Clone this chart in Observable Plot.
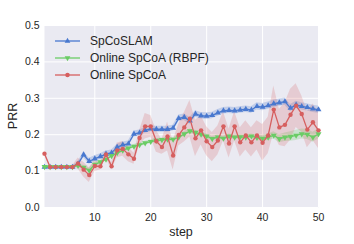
<!DOCTYPE html>
<html>
<head>
<meta charset="utf-8">
<script src="https://cdn.jsdelivr.net/npm/d3@7"></script>
<script src="https://cdn.jsdelivr.net/npm/@observablehq/plot@0.6"></script>
<style>
  html, body { margin: 0; padding: 0; background: white; }
  #chart { width: 354px; height: 244px; }
</style>
</head>
<body>
<div id="chart"></div>
<script>
const steps = [1,2,3,4,5,6,7,8,9,10,11,12,13,14,15,16,17,18,19,20,21,22,23,24,25,26,27,28,29,30,31,32,33,34,35,36,37,38,39,40,41,42,43,44,45,46,47,48,49,50];

const seriesNames = ["SpCoSLAM", "Online SpCoA (RBPF)", "Online SpCoA"];
const seriesColors = ["#4878CF", "#6ACC65", "#D65F5F"];

const spcoslam = [0.111,0.111,0.111,0.111,0.111,0.111,0.120,0.145,0.127,0.134,0.140,0.147,0.150,0.166,0.172,0.175,0.202,0.205,0.212,0.216,0.215,0.215,0.215,0.218,0.245,0.248,0.238,0.257,0.252,0.251,0.253,0.260,0.266,0.267,0.266,0.268,0.270,0.268,0.278,0.276,0.280,0.285,0.288,0.291,0.273,0.282,0.278,0.275,0.271,0.269];
const spcoslamErr = [0.004,0.004,0.004,0.004,0.004,0.004,0.006,0.008,0.008,0.008,0.008,0.008,0.008,0.008,0.008,0.008,0.008,0.008,0.008,0.008,0.008,0.008,0.008,0.008,0.009,0.009,0.009,0.009,0.009,0.009,0.009,0.009,0.009,0.009,0.009,0.009,0.009,0.009,0.010,0.010,0.010,0.010,0.010,0.010,0.010,0.010,0.010,0.010,0.010,0.010];

const rbpf = [0.112,0.112,0.112,0.112,0.112,0.112,0.115,0.110,0.102,0.118,0.125,0.132,0.142,0.150,0.157,0.163,0.168,0.172,0.177,0.181,0.184,0.186,0.187,0.187,0.193,0.202,0.210,0.206,0.201,0.196,0.189,0.193,0.190,0.196,0.193,0.194,0.193,0.196,0.192,0.190,0.193,0.198,0.189,0.193,0.195,0.198,0.202,0.201,0.193,0.202];
const rbpfErr = [0.003,0.003,0.003,0.003,0.003,0.003,0.004,0.006,0.006,0.006,0.005,0.005,0.005,0.005,0.005,0.005,0.005,0.005,0.005,0.005,0.005,0.005,0.005,0.005,0.005,0.006,0.006,0.006,0.006,0.006,0.006,0.006,0.006,0.006,0.006,0.006,0.006,0.006,0.007,0.008,0.009,0.010,0.011,0.012,0.013,0.014,0.014,0.014,0.014,0.014];

const online = [0.148,0.111,0.111,0.111,0.111,0.111,0.121,0.104,0.089,0.114,0.113,0.146,0.113,0.157,0.161,0.146,0.134,0.191,0.223,0.223,0.182,0.166,0.195,0.143,0.199,0.220,0.244,0.190,0.212,0.182,0.166,0.184,0.223,0.176,0.223,0.179,0.198,0.179,0.198,0.178,0.198,0.269,0.220,0.227,0.255,0.280,0.257,0.214,0.234,0.212];
const onlineErr = [0.004,0.003,0.003,0.003,0.003,0.003,0.015,0.020,0.020,0.015,0.010,0.010,0.010,0.020,0.020,0.020,0.015,0.020,0.035,0.030,0.030,0.020,0.040,0.040,0.030,0.040,0.050,0.050,0.040,0.040,0.040,0.040,0.040,0.040,0.040,0.040,0.040,0.040,0.040,0.050,0.050,0.065,0.050,0.060,0.070,0.060,0.050,0.050,0.050,0.050];

const xTicks = [10,20,30,40,50];
const yTicks = [0.0,0.1,0.2,0.3,0.4,0.5];

function rows(vals, errs, name) {
  return steps.map((s, i) => ({step: s, v: vals[i], lo: vals[i] - errs[i], hi: vals[i] + errs[i], name}));
}
const blue = rows(spcoslam, spcoslamErr, seriesNames[0]);
const green = rows(rbpf, rbpfErr, seriesNames[1]);
const red = rows(online, onlineErr, seriesNames[2]);

const font = "'Liberation Sans', Arial, sans-serif";

const chart = Plot.plot({
  width: 354,
  height: 244,
  marginLeft: 44,
  marginRight: 36,
  marginTop: 25,
  marginBottom: 37,
  style: {fontFamily: font, fontSize: "10.5px", color: "#262626", background: "white"},
  x: {domain: [1, 50]},
  y: {domain: [0, 0.5]},
  marks: [
    Plot.frame({fill: "#EAEAF2", stroke: null}),
    Plot.gridX(xTicks, {stroke: "white", strokeOpacity: 1, strokeWidth: 1}),
    Plot.gridY(yTicks, {stroke: "white", strokeOpacity: 1, strokeWidth: 1}),
    Plot.axisX(xTicks, {tickSize: 0, tickPadding: 6, label: null, fill: "#262626", fontSize: 10.5}),
    Plot.axisY(yTicks, {tickSize: 0, tickPadding: 5, label: null, tickFormat: d3.format(".1f"), fill: "#262626", fontSize: 10.5}),
    Plot.areaY(blue, {x: "step", y1: "lo", y2: "hi", fill: seriesColors[0], fillOpacity: 0.25}),
    Plot.areaY(green, {x: "step", y1: "lo", y2: "hi", fill: seriesColors[1], fillOpacity: 0.25}),
    Plot.areaY(red, {x: "step", y1: "lo", y2: "hi", fill: seriesColors[2], fillOpacity: 0.22}),
    Plot.line(blue, {x: "step", y: "v", stroke: seriesColors[0], strokeWidth: 1.3}),
    Plot.dot(blue, {x: "step", y: "v", symbol: "triangle", r: 2.2, fill: seriesColors[0], stroke: null}),
    Plot.line(green, {x: "step", y: "v", stroke: seriesColors[1], strokeWidth: 1.3}),
    Plot.dot(green, {x: "step", y: "v", symbol: "triangle", rotate: 180, r: 2.2, fill: seriesColors[1], stroke: null}),
    Plot.line(red, {x: "step", y: "v", stroke: seriesColors[2], strokeWidth: 1.3}),
    Plot.dot(red, {x: "step", y: "v", r: 2.2, fill: seriesColors[2], stroke: null})
  ]
});

document.getElementById("chart").appendChild(chart);

// axis titles and legend
const svg = d3.select(chart);
svg.append("text").attr("x", 181).attr("y", 236).attr("text-anchor", "middle")
  .attr("font-family", font).attr("font-size", 12.5).attr("fill", "#262626").text("step");
svg.append("text").attr("transform", "translate(17,116) rotate(-90)").attr("text-anchor", "middle")
  .attr("font-family", font).attr("font-size", 12.5).attr("fill", "#262626").text("PRR");

const legendSymbols = [d3.symbolTriangle, d3.symbolTriangle, d3.symbolCircle];
const legendRot = [0, 180, 0];
seriesNames.forEach((name, i) => {
  const y = 41 + i * 17;
  const g = svg.append("g");
  g.append("line").attr("x1", 55).attr("x2", 80).attr("y1", y).attr("y2", y)
    .attr("stroke", seriesColors[i]).attr("stroke-width", 1.3);
  g.append("path").attr("d", d3.symbol(legendSymbols[i], i === 2 ? 16 : 14)())
    .attr("transform", `translate(67.5,${y}) rotate(${legendRot[i]})`).attr("fill", seriesColors[i]);
  g.append("text").attr("x", 90).attr("y", y).attr("dy", "0.35em").attr("text-anchor", "start")
    .attr("font-family", font).attr("font-size", 12).attr("fill", "#262626").text(name);
});
</script>
</body>
</html>
